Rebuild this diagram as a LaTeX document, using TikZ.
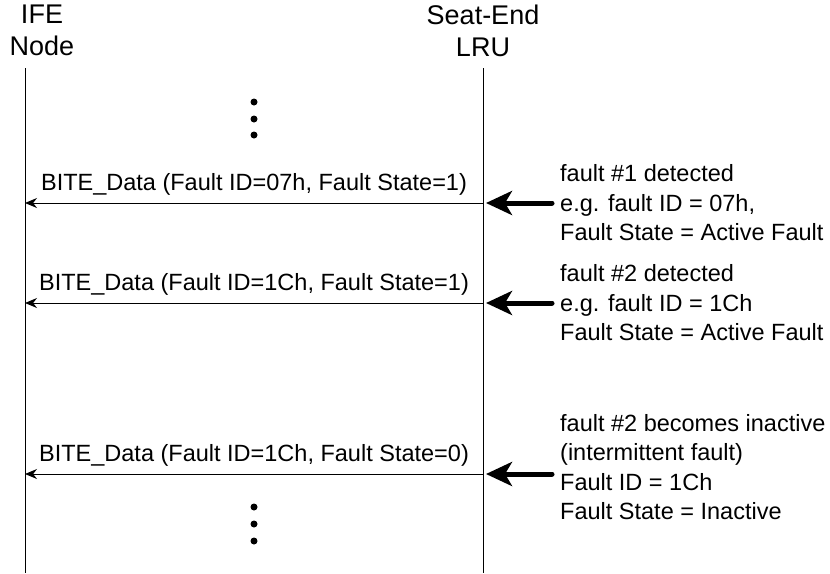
\documentclass[tikz,border=0pt]{standalone}
\usepackage{fontspec}
\setmainfont{Liberation Sans}
\usetikzlibrary{arrows.meta}

\begin{document}
\begin{tikzpicture}[x=1pt, y=-1pt,
  head/.style={font=\fontsize{27}{32}\selectfont, align=center, anchor=north, inner sep=0pt},
  msg/.style={line width=1pt, -{Stealth[length=12pt, width=10pt]}},
  msglabel/.style={font=\fontsize{23.5}{28}\selectfont, inner sep=0pt, midway, above=7pt},
  note/.style={font=\fontsize{23.5}{29.5}\selectfont, align=left, anchor=west, inner sep=0pt},
  bigarrow/.style={line width=5pt, line cap=round, -{Stealth[length=26pt, width=24pt, inset=7pt]}, shorten <=8pt, shorten >=3pt}]
\useasboundingbox (0,0) rectangle (830,573);
\node[head] (ife) at (42,5) {IFE\\Node};
\node[head] (seat) at (483,5) {Seat-End\\LRU};
\coordinate (ifeTop) at (25,68); \coordinate (ifeBot) at (25,573);
\coordinate (seatTop) at (483,68); \coordinate (seatBot) at (483,573);
\draw[line width=1pt] (ifeTop) -- (ifeBot);
\draw[line width=1pt] (seatTop) -- (seatBot);
\foreach \i/\y in {1/203, 2/303, 3/474} {
  \coordinate (m\i L) at (25,\y);
  \coordinate (m\i R) at (483,\y);
}
% dots
\foreach \y in {102,119,135,507,524,541}
  \fill (254,\y) circle (3.5);
\draw[msg] (m1R) -- (m1L) node[msglabel]{BITE\_Data (Fault ID=07h, Fault State=1)};
\draw[msg] (m2R) -- (m2L) node[msglabel]{BITE\_Data (Fault ID=1Ch, Fault State=1)};
\draw[msg] (m3R) -- (m3L) node[msglabel]{BITE\_Data (Fault ID=1Ch, Fault State=0)};
\node[note] (n1) at (560,203) {fault \#1 detected\\e.g. fault ID = 07h,\\Fault State = Active Fault};
\node[note] (n2) at (560,303) {fault \#2 detected\\e.g. fault ID = 1Ch\\Fault State = Active Fault};
\node[note] (n3) at (560,467) {fault \#2 becomes inactive\\(intermittent fault)\\Fault ID = 1Ch\\Fault State = Inactive};
\draw[bigarrow] (n1.west) -- (m1R);
\draw[bigarrow] (n2.west) -- (m2R);
\draw[bigarrow] (n3.west |- m3R) -- (m3R);
\end{tikzpicture}
\end{document}
